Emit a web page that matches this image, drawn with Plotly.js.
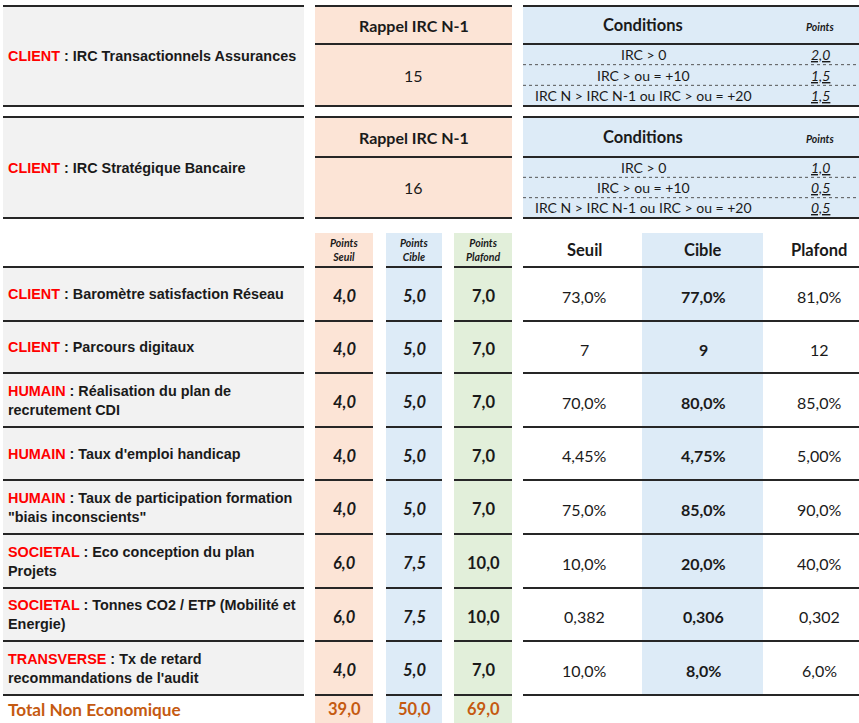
<!DOCTYPE html>
<html>
<head>
<meta charset="utf-8">
<script src="https://cdn.plot.ly/plotly-3.0.1.min.js"></script>
<style>html,body{margin:0;padding:0;background:#fff;}#chart{width:859px;height:723px;}</style>
</head>
<body>
<div id="chart"></div>
<script>
// ---------------- DATA ----------------
const blockCategories = ["CLIENT", "CLIENT"];
const blockTitles = ["IRC Transactionnels Assurances", "IRC Stratégique Bancaire"];
const rappelLabel = "Rappel IRC N-1";
const rappelValues = [15, 16];
const conditions = ["IRC > 0", "IRC > ou = +10", "IRC N > IRC N-1 ou IRC > ou = +20"];
const conditionPointsAssurances = [2.0, 1.5, 1.5];
const conditionPointsBancaire = [1.0, 0.5, 0.5];

const categories = ["CLIENT", "CLIENT", "HUMAIN", "HUMAIN", "HUMAIN", "SOCIETAL", "SOCIETAL", "TRANSVERSE"];
const indicators = [
  "Baromètre satisfaction Réseau",
  "Parcours digitaux",
  "Réalisation du plan de\nrecrutement CDI",
  "Taux d'emploi handicap",
  "Taux de participation formation\n\"biais inconscients\"",
  "Eco conception du plan\nProjets",
  "Tonnes CO2 / ETP (Mobilité et\nEnergie)",
  "Tx de retard\nrecommandations de l'audit"
];
const pointsSeuil = [4.0, 4.0, 4.0, 4.0, 4.0, 6.0, 6.0, 4.0];
const pointsCible = [5.0, 5.0, 5.0, 5.0, 5.0, 7.5, 7.5, 5.0];
const pointsPlafond = [7.0, 7.0, 7.0, 7.0, 7.0, 10.0, 10.0, 7.0];
const seuilValues = ["73,0%", "7", "70,0%", "4,45%", "75,0%", "10,0%", "0,382", "10,0%"];
const cibleValues = ["77,0%", "9", "80,0%", "4,75%", "85,0%", "20,0%", "0,306", "8,0%"];
const plafondValues = ["81,0%", "12", "85,0%", "5,00%", "90,0%", "40,0%", "0,302", "6,0%"];
const pointsHeaders = ["Points<br>Seuil", "Points<br>Cible", "Points<br>Plafond"];
const levelHeaders = ["Seuil", "Cible", "Plafond"];
const totalLabel = "Total Non Economique";
const totals = [39.0, 50.0, 69.0];

// ---------------- LAYOUT HELPERS ----------------
const W = 859, H = 723;
const C_SAL = "#fce4d6", C_BLUE = "#ddebf7", C_GREEN = "#e2efda", C_GRAY = "#f2f2f2";
const LINE = "#262626", RED = "#ff0000", ORANGE = "#c55a11", TXT = "#1a1a1a";
const ARIAL = "Liberation Sans, Arial, sans-serif";
const CAL = "Lato, Carlito, Calibri, sans-serif";
const LBL = 14.4;

const shapes = [];
const annotations = [];
function rect(x0, y0, x1, y1, fill) {
  shapes.push({type: "rect", xref: "x", yref: "y", x0, x1, y0, y1, fillcolor: fill, line: {width: 0}, layer: "below"});
}
function hline(x0, x1, y, w, dash, color) {
  shapes.push({type: "line", xref: "x", yref: "y", x0, x1, y0: y, y1: y,
    line: {color: color || LINE, width: w || 2, dash: dash || "solid"}});
}
function ann(x, y, text, size, family, color, align) {
  annotations.push({xref: "x", yref: "y", x, y, text, showarrow: false,
    xanchor: align || "center", yanchor: "middle",
    font: {size, family, color: color || TXT}});
}
function fmt(v) { return v.toFixed(1).replace(".", ","); }
function label(cat, rest) {
  return "<b><span style='color:" + RED + "'>" + cat + "</span> : " + rest + "</b>";
}

const colL = [3, 304], colS = [315, 373], colC = [386, 442], colP = [454, 512], colR = [523, 859];
const cSeuil = [523, 642], cCible = [642, 763], cPlaf = [763, 859];
const xS = (colS[0] + colS[1]) / 2, xC = (colC[0] + colC[1]) / 2, xP = (colP[0] + colP[1]) / 2;
const xSeuil = 584, xCible = 703, xPlaf = 819, xCond = 643, xPts = 820;

// ---------------- TOP BLOCKS ----------------
const blocks = [
  {top: 6, head: 44, bottom: 106, pts: conditionPointsAssurances},
  {top: 117, head: 157, bottom: 218, pts: conditionPointsBancaire}
];
blocks.forEach((b, i) => {
  rect(colL[0], b.top, colL[1], b.bottom, C_GRAY);
  rect(colS[0], b.top, colP[1], b.bottom, C_SAL);
  rect(colR[0], b.top, colR[1], b.bottom, C_BLUE);
  [colL, [colS[0], colP[1]], colR].forEach(c => { hline(c[0], c[1], b.top, 2); hline(c[0], c[1], b.bottom, 2); });
  hline(colS[0], colP[1], b.head, 2);
  hline(colR[0], colR[1], b.head, 2);
  const rowH = (b.bottom - b.head) / 3;
  hline(colR[0], colR[1], b.head + rowH, 1, "dot", "#555");
  hline(colR[0], colR[1], b.head + 2 * rowH, 1, "dot", "#555");
  const midHead = (b.top + b.head) / 2;
  ann(6, (b.top + b.bottom) / 2, label(blockCategories[i], blockTitles[i]), LBL, ARIAL, TXT, "left");
  ann((colS[0] + colP[1]) / 2, midHead, "<b>" + rappelLabel + "</b>", 16, CAL);
  ann((colS[0] + colP[1]) / 2, (b.head + b.bottom) / 2, String(rappelValues[i]), 16, CAL);
  ann(xCond, midHead, "<b>Conditions</b>", 16.5, CAL);
  ann(xPts, midHead + 2, "<b><i>Points</i></b>", 10.5, CAL);
  conditions.forEach((c, k) => {
    const y = b.head + rowH * (k + 0.5);
    ann(xCond, y, c, 14, CAL);
    ann(xPts, y, "<i><u>" + fmt(b.pts[k]) + "</u></i>", 14, CAL);
  });
});

// ---------------- MAIN TABLE ----------------
const headTop = 233, headLine = 267;
const rowTops = [267, 321, 373, 427, 480, 534, 588, 641, 695];
const bottom = 723;
rect(colL[0], headLine, colL[1], rowTops[8], C_GRAY);
rect(colS[0], headTop, colS[1], bottom, C_SAL);
rect(colC[0], headTop, colC[1], bottom, C_BLUE);
rect(colP[0], headTop, colP[1], bottom, C_GREEN);
rect(cCible[0], headTop, cCible[1], rowTops[8], C_BLUE);

[colL, colS, colC, colP, colR].forEach(c => rowTops.forEach(y => hline(c[0], c[1], y, 2)));

ann(xS, 250, "<b><i>" + pointsHeaders[0] + "</i></b>", 10.5, CAL);
ann(xC, 250, "<b><i>" + pointsHeaders[1] + "</i></b>", 10.5, CAL);
ann(xP, 250, "<b><i>" + pointsHeaders[2] + "</i></b>", 10.5, CAL);
ann(xSeuil, 250, "<b>" + levelHeaders[0] + "</b>", 16.5, CAL);
ann(xCible, 250, "<b>" + levelHeaders[1] + "</b>", 16.5, CAL);
ann(xPlaf, 250, "<b>" + levelHeaders[2] + "</b>", 16.5, CAL);

categories.forEach((cat, i) => {
  const yc = (rowTops[i] + rowTops[i + 1]) / 2;
  const lines = indicators[i].split("\n");
  if (lines.length === 1) {
    ann(6, yc, label(cat, lines[0]), LBL, ARIAL, TXT, "left");
  } else {
    ann(6, yc - 9.5, label(cat, lines[0]), LBL, ARIAL, TXT, "left");
    ann(6, yc + 9.5, "<b>" + lines[1] + "</b>", LBL, ARIAL, TXT, "left");
  }
  const yv = yc + 2;
  ann(xS, yv, "<b><i>" + fmt(pointsSeuil[i]) + "</i></b>", 16.5, CAL);
  ann(xC, yv, "<b><i>" + fmt(pointsCible[i]) + "</i></b>", 16.5, CAL);
  ann(xP, yv, "<b>" + fmt(pointsPlafond[i]) + "</b>", 16.5, CAL);
  ann(xSeuil, yv, seuilValues[i], 16, CAL);
  ann(xCible, yv, "<b>" + cibleValues[i] + "</b>", 16, CAL);
  ann(xPlaf, yv, plafondValues[i], 16, CAL);
});

const yT = (rowTops[8] + bottom) / 2;
ann(6, yT, "<b>" + totalLabel + "</b>", 17.2, CAL, ORANGE, "left");
ann(xS, yT, "<b>" + fmt(totals[0]) + "</b>", 16.5, CAL, ORANGE);
ann(xC, yT, "<b>" + fmt(totals[1]) + "</b>", 16.5, CAL, ORANGE);
ann(xP, yT, "<b>" + fmt(totals[2]) + "</b>", 16.5, CAL, ORANGE);

Plotly.newPlot("chart", [{x: [0, W], y: [0, H], type: "scatter", mode: "markers", marker: {opacity: 0}, hoverinfo: "skip", showlegend: false}], {
  width: W, height: H,
  margin: {l: 0, r: 0, t: 0, b: 0},
  paper_bgcolor: "#fff", plot_bgcolor: "#fff",
  xaxis: {range: [0, W], visible: false, fixedrange: true},
  yaxis: {range: [H, 0], visible: false, fixedrange: true},
  shapes, annotations, showlegend: false
}, {displayModeBar: false, staticPlot: true});
</script>
</body>
</html>
